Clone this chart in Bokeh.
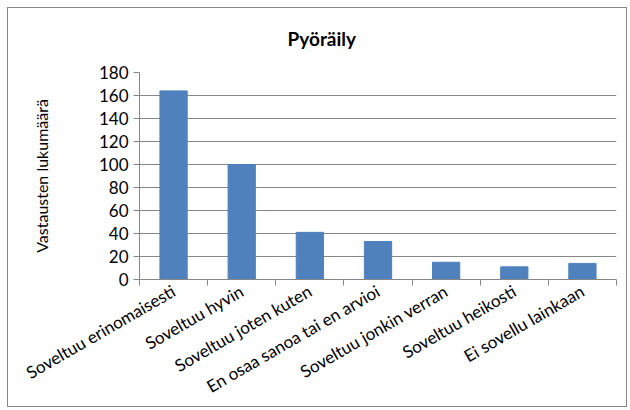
from bokeh.plotting import figure
from bokeh.models import FixedTicker, Range1d, ColumnDataSource
from bokeh.embed import file_html
from bokeh.resources import INLINE
import math

categories = ["Soveltuu erinomaisesti", "Soveltuu hyvin", "Soveltuu joten kuten",
              "En osaa sanoa tai en arvioi", "Soveltuu jonkin verran",
              "Soveltuu heikosti", "Ei sovellu lainkaan"]
counts = [164, 100, 41, 33, 15, 11, 14]
y_ticks = [0, 20, 40, 60, 80, 100, 120, 140, 160, 180]
title_text = "Pyöräily"
y_label = "Vastausten lukumäärä"

FONT = "Lato"
GRAY = "#868686"

xs = [i + 0.5 for i in range(len(categories))]
src = ColumnDataSource(dict(x=xs, top=counts, cat=categories))

p = figure(width=620, height=400, output_backend="svg", toolbar_location=None,
           x_range=Range1d(0, len(categories)), y_range=Range1d(0, 180),
           min_border_left=131, min_border_right=12, min_border_top=64, min_border_bottom=127,
           title=title_text + "\n")
p.styles = {"border": "1px solid " + GRAY, "margin": "7px 0px 0px 7px"}
p.outline_line_color = None
p.background_fill_color = "white"
p.border_fill_color = "white"

p.title.align = "left"
p.title.offset = 148
p.title.standoff = 0
p.title.text_font = FONT
p.title.text_font_size = "19px"
p.title.text_font_style = "bold"
p.title.text_color = "black"

p.vbar(x="x", top="top", width=0.4, source=src, fill_color="#4F81BD",
       line_color="#4F81BD")

# x axis
p.xaxis.ticker = FixedTicker(ticks=xs, minor_ticks=list(range(len(categories) + 1)))
p.xaxis.major_label_overrides = {x: c for x, c in zip(xs, categories)}
p.xaxis.major_label_orientation = math.radians(30)
p.xaxis.major_tick_out = 0
p.xaxis.major_tick_in = 0
p.xaxis.minor_tick_out = 6
p.xaxis.minor_tick_in = 0
p.xaxis.minor_tick_line_color = GRAY
p.xaxis.axis_line_color = GRAY
p.xaxis.major_label_text_font = FONT
p.xaxis.major_label_text_font_size = "17px"
p.xaxis.major_label_text_color = "black"
p.xaxis.major_label_standoff = 4

# y axis
p.yaxis.ticker = FixedTicker(ticks=y_ticks)
p.yaxis.major_tick_out = 6
p.yaxis.major_tick_in = 0
p.yaxis.minor_tick_line_color = None
p.yaxis.major_tick_line_color = GRAY
p.yaxis.axis_line_color = GRAY
p.yaxis.major_label_text_font = FONT
p.yaxis.major_label_text_font_size = "17px"
p.yaxis.major_label_text_color = "black"
p.yaxis.major_label_standoff = 5
p.yaxis.axis_label = y_label
p.yaxis.axis_label_text_font = FONT
p.yaxis.axis_label_text_font_size = "16px"
p.yaxis.axis_label_text_font_style = "normal"
p.yaxis.axis_label_text_color = "black"
p.yaxis.axis_label_standoff = 45

p.xgrid.grid_line_color = None
p.ygrid.grid_line_color = GRAY
p.ygrid.grid_line_width = 1

open("out.html", "w").write(file_html(p, INLINE))
